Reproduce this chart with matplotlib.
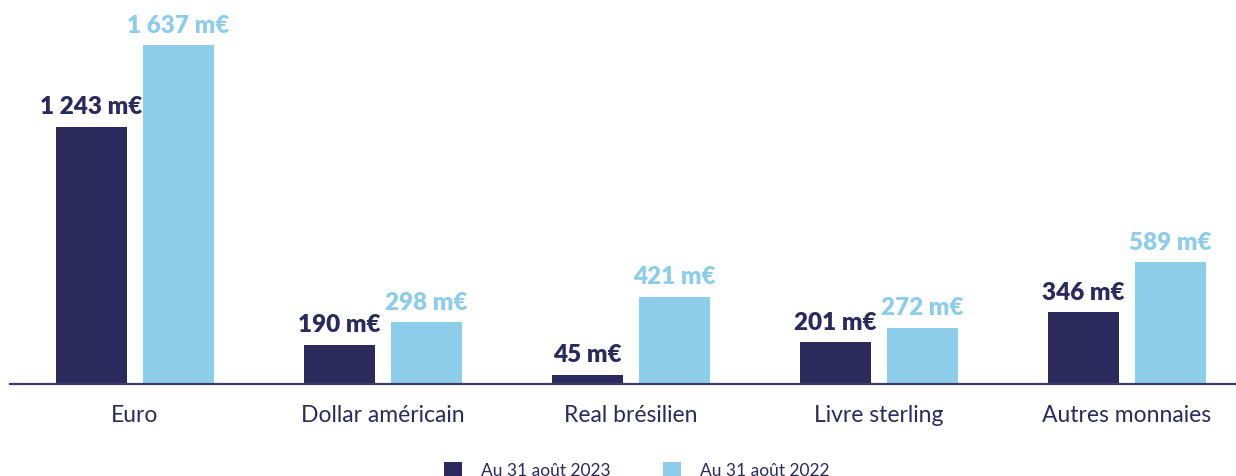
import matplotlib
matplotlib.use("Agg")
import matplotlib.pyplot as plt
import numpy as np

categories = ["Euro", "Dollar américain", "Real brésilien", "Livre sterling", "Autres monnaies"]
values_2023 = [1243, 190, 45, 201, 346]
values_2022 = [1637, 298, 421, 272, 589]
labels_2023 = ["1 243 m€", "190 m€", "45 m€", "201 m€", "346 m€"]
labels_2022 = ["1 637 m€", "298 m€", "421 m€", "272 m€", "589 m€"]
series_names = ["Au 31 août 2023", "Au 31 août 2022"]

dark = "#2a2a5c"
light = "#8ecdea"

plt.rcParams['font.family'] = ['Lato', 'DejaVu Sans']

fig = plt.figure(figsize=(12.36, 4.76), dpi=100)
ax = fig.add_axes([10 / 1236, (476 - 384) / 476, 1226 / 1236, 384 / 476])

x = np.arange(len(categories))
w = 0.286
off = 0.176
b1 = ax.bar(x - off, values_2023, width=w, color=dark, label=series_names[0])
b2 = ax.bar(x + off, values_2022, width=w, color=light, label=series_names[1])

for rect, lab in zip(b1, labels_2023):
    ax.annotate(lab, (rect.get_x() + rect.get_width() / 2, rect.get_height()),
                xytext=(0, 6), textcoords="offset points", ha="center", va="bottom",
                fontsize=17.5, fontweight="heavy", color=dark)
for rect, lab in zip(b2, labels_2022):
    ax.annotate(lab, (rect.get_x() + rect.get_width() / 2, rect.get_height()),
                xytext=(0, 6), textcoords="offset points", ha="center", va="bottom",
                fontsize=17.5, fontweight="heavy", color=light)

ax.set_xlim(-0.504, 4.440)
ax.set_ylim(0, 1854)
ax.set_xticks(x)
ax.set_xticklabels(categories, fontsize=16.5, color=dark)
ax.tick_params(axis="x", length=0, pad=15)
ax.set_yticks([])
for s in ["top", "right", "left"]:
    ax.spines[s].set_visible(False)
ax.spines["bottom"].set_color("#3d3d6b")
ax.spines["bottom"].set_linewidth(1.6)
ax.patch.set_alpha(0)

leg = ax.legend(loc="center", bbox_to_anchor=(0.515, 0.012), bbox_transform=fig.transFigure,
                ncol=2, frameon=False, fontsize=12.5, handlelength=1.05, handleheight=1.05,
                handletextpad=1.1, columnspacing=3.0)
for t in leg.get_texts():
    t.set_color(dark)

fig.savefig("out.png", dpi=100)
